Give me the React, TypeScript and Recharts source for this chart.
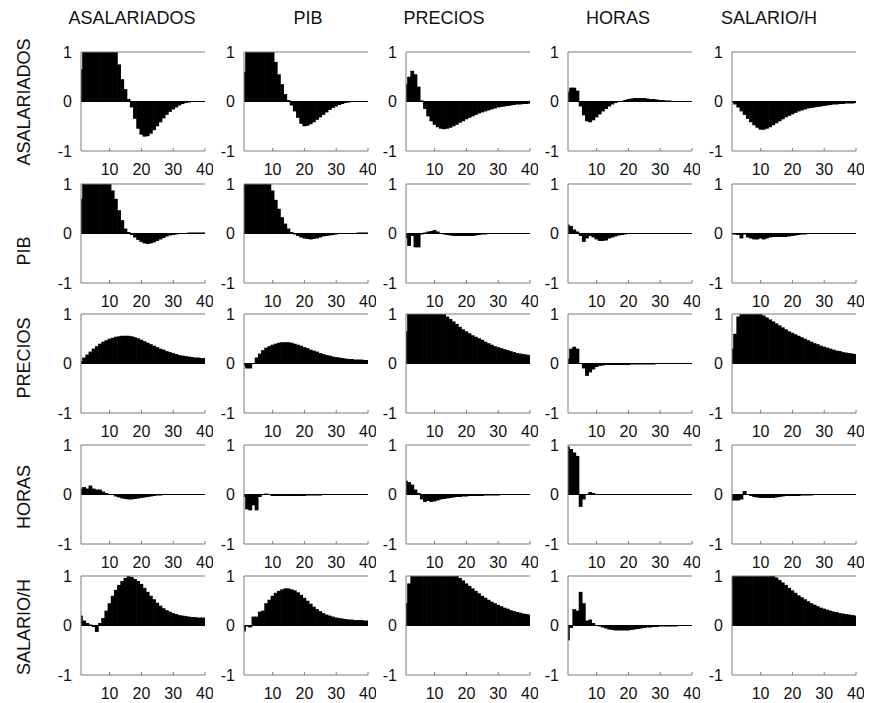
import React from 'react';
import { BarChart, Bar, XAxis, YAxis, ReferenceLine } from 'recharts';

const VARIABLES = ['ASALARIADOS', 'PIB', 'PRECIOS', 'HORAS', 'SALARIO/H'];
const HORIZON = Array.from({ length: 40 }, (_, i) => i + 1);
const X_TICKS = [10, 20, 30, 40];
const Y_TICKS = [-1, 0, 1];

// row = variable on the left, column = variable on top
const asal_asal = [0.65, 1, 1, 1, 1, 1, 1, 1, 1, 1, 1, 1, 0.75, 0.45, 0.25, 0.05, -0.12, -0.35, -0.55, -0.67, -0.71, -0.7, -0.65, -0.58, -0.5, -0.42, -0.34, -0.27, -0.21, -0.16, -0.12, -0.08, -0.05, -0.03, -0.02, -0.01, -0.01, -0.01, -0.01, -0.01];
const asal_pib = [0.6, 1, 1, 1, 1, 1, 1, 1, 1, 1, 0.8, 0.55, 0.35, 0.15, 0.03, -0.08, -0.2, -0.33, -0.45, -0.5, -0.49, -0.46, -0.42, -0.37, -0.32, -0.27, -0.22, -0.17, -0.13, -0.1, -0.07, -0.05, -0.03, -0.02, -0.01, -0.01, -0.01, -0.01, -0.01, -0.01];
const asal_prec = [0.35, 0.5, 0.62, 0.55, 0.3, 0.02, -0.15, -0.3, -0.4, -0.47, -0.52, -0.55, -0.56, -0.55, -0.53, -0.5, -0.47, -0.43, -0.4, -0.36, -0.33, -0.3, -0.27, -0.24, -0.22, -0.2, -0.18, -0.16, -0.14, -0.12, -0.11, -0.1, -0.09, -0.08, -0.07, -0.06, -0.06, -0.05, -0.05, -0.04];
const asal_hor = [0.2, 0.28, 0.28, 0.22, -0.1, -0.28, -0.4, -0.42, -0.38, -0.32, -0.26, -0.2, -0.15, -0.1, -0.06, -0.03, -0.01, 0.01, 0.03, 0.05, 0.06, 0.07, 0.07, 0.07, 0.07, 0.06, 0.05, 0.05, 0.04, 0.03, 0.03, 0.02, 0.02, 0.01, 0.01, 0.01, 0, 0, 0, 0];
const asal_sal = [-0.02, -0.06, -0.12, -0.2, -0.27, -0.35, -0.42, -0.48, -0.53, -0.57, -0.57, -0.55, -0.52, -0.48, -0.44, -0.4, -0.36, -0.32, -0.29, -0.26, -0.23, -0.2, -0.18, -0.16, -0.14, -0.13, -0.12, -0.11, -0.1, -0.09, -0.08, -0.07, -0.06, -0.06, -0.05, -0.05, -0.04, -0.04, -0.04, -0.03];

const pib_asal = [0.7, 1, 1, 1, 1, 1, 1, 1, 1, 1, 0.87, 0.7, 0.47, 0.27, 0.1, 0.03, -0.03, -0.08, -0.13, -0.17, -0.2, -0.21, -0.2, -0.18, -0.15, -0.12, -0.09, -0.06, -0.04, -0.03, -0.02, -0.01, 0, 0.01, 0.02, 0.02, 0.02, 0.02, 0.02, 0.02];
const pib_pib = [1, 1, 1, 1, 1, 1, 1, 1, 1, 0.87, 0.68, 0.5, 0.33, 0.2, 0.1, 0.03, -0.02, -0.05, -0.08, -0.1, -0.11, -0.12, -0.11, -0.1, -0.08, -0.06, -0.05, -0.04, -0.03, -0.02, -0.01, -0.01, 0, 0, 0, 0, 0.02, 0.02, 0.02, 0.02];
const pib_prec = [-0.1, -0.25, -0.05, -0.28, -0.28, -0.02, 0.02, 0.04, 0.05, 0.07, 0.04, 0.01, -0.02, -0.03, -0.04, -0.05, -0.05, -0.05, -0.05, -0.05, -0.05, -0.05, -0.04, -0.03, -0.02, -0.02, -0.01, -0.01, -0.01, -0.01, -0.01, -0.01, -0.01, -0.01, -0.01, -0.01, -0.01, -0.01, -0.01, -0.01];
const pib_hor = [0.18, 0.15, 0.08, 0.04, -0.05, -0.17, -0.1, -0.05, -0.08, -0.12, -0.15, -0.15, -0.14, -0.1, -0.08, -0.06, -0.04, -0.03, -0.02, -0.01, 0.01, 0.01, 0.01, 0.01, 0.01, 0.01, 0.01, 0.01, 0.01, 0.01, 0.01, 0.01, 0, 0, 0, 0, 0, 0, 0, 0];
const pib_sal = [-0.02, -0.02, -0.03, -0.1, -0.02, -0.08, -0.1, -0.12, -0.12, -0.1, -0.12, -0.1, -0.08, -0.07, -0.07, -0.07, -0.07, -0.07, -0.06, -0.05, -0.04, -0.03, -0.02, -0.02, -0.01, -0.01, -0.01, -0.01, -0.01, -0.01, -0.01, -0.01, -0.01, -0.01, -0.01, -0.01, -0.01, -0.01, -0.01, -0.01];

const prec_asal = [0.05, 0.12, 0.18, 0.24, 0.3, 0.35, 0.4, 0.44, 0.47, 0.5, 0.52, 0.54, 0.55, 0.56, 0.56, 0.56, 0.55, 0.53, 0.51, 0.48, 0.45, 0.42, 0.39, 0.36, 0.33, 0.3, 0.28, 0.25, 0.23, 0.21, 0.19, 0.17, 0.16, 0.15, 0.14, 0.13, 0.12, 0.12, 0.11, 0.11];
const prec_pib = [-0.05, -0.1, -0.1, 0, 0.12, 0.2, 0.27, 0.32, 0.35, 0.38, 0.4, 0.42, 0.43, 0.43, 0.43, 0.42, 0.4, 0.38, 0.36, 0.33, 0.31, 0.28, 0.26, 0.24, 0.21, 0.19, 0.17, 0.16, 0.14, 0.13, 0.12, 0.11, 0.1, 0.09, 0.09, 0.08, 0.08, 0.08, 0.07, 0.07];
const prec_prec = [0.65, 1, 1, 1, 1, 1, 1, 1, 1, 1, 1, 1, 1, 0.95, 0.9, 0.85, 0.8, 0.74, 0.69, 0.65, 0.61, 0.57, 0.54, 0.51, 0.48, 0.44, 0.41, 0.38, 0.35, 0.33, 0.31, 0.29, 0.27, 0.25, 0.23, 0.21, 0.2, 0.19, 0.18, 0.17];
const prec_hor = [0.1, 0.3, 0.34, 0.3, 0, -0.1, -0.25, -0.18, -0.12, -0.07, -0.05, -0.04, -0.03, -0.03, -0.03, -0.03, -0.03, -0.03, -0.03, -0.03, -0.02, -0.02, -0.02, -0.02, -0.02, -0.02, -0.02, -0.02, -0.01, -0.01, -0.01, -0.01, -0.01, 0, 0, 0, 0, 0, 0, 0];
const prec_sal = [0.3, 0.6, 0.95, 1, 1, 1, 1, 1, 1, 1, 0.97, 0.93, 0.89, 0.85, 0.81, 0.77, 0.73, 0.69, 0.65, 0.62, 0.59, 0.56, 0.53, 0.5, 0.47, 0.44, 0.41, 0.39, 0.36, 0.34, 0.32, 0.3, 0.28, 0.26, 0.25, 0.23, 0.22, 0.21, 0.2, 0.19];

const hor_asal = [0.12, 0.15, 0.12, 0.18, 0.12, 0.1, 0.1, 0.06, 0.03, 0.01, -0.01, -0.04, -0.06, -0.08, -0.09, -0.1, -0.1, -0.09, -0.08, -0.07, -0.06, -0.05, -0.04, -0.03, -0.02, -0.02, -0.01, -0.01, -0.01, -0.01, -0.01, -0.01, -0.01, -0.01, -0.01, -0.01, -0.01, -0.01, -0.01, -0.01];
const hor_pib = [-0.05, -0.3, -0.32, -0.22, -0.32, -0.05, 0, 0.02, -0.01, -0.03, -0.03, -0.03, -0.03, -0.03, -0.03, -0.03, -0.03, -0.03, -0.03, -0.03, -0.02, -0.02, -0.02, -0.02, -0.02, -0.01, -0.01, -0.01, -0.01, -0.01, 0, 0, 0, 0, 0, 0, 0, 0, 0, 0];
const hor_prec = [0.28, 0.25, 0.2, 0.1, 0.03, -0.1, -0.15, -0.13, -0.15, -0.14, -0.12, -0.1, -0.09, -0.08, -0.07, -0.06, -0.05, -0.05, -0.04, -0.04, -0.03, -0.03, -0.03, -0.03, -0.03, -0.02, -0.02, -0.02, -0.02, -0.02, -0.01, -0.01, -0.01, -0.01, -0.01, 0, 0, 0, 0, 0];
const hor_hor = [0.97, 0.92, 0.85, 0.78, -0.25, -0.1, 0, 0.05, 0.03, 0.01, 0.01, 0.01, 0.01, 0.01, 0.01, 0.01, 0.01, 0.01, 0.01, 0.01, 0.01, 0.01, 0.01, 0.01, 0.01, 0.01, 0.01, 0.01, 0.01, 0.01, 0.01, 0.01, 0.01, 0.01, 0.01, 0.01, 0.01, 0.01, 0.01, 0.01];
const hor_sal = [-0.12, -0.12, -0.12, -0.1, 0.07, 0, -0.03, -0.05, -0.06, -0.07, -0.07, -0.07, -0.07, -0.07, -0.06, -0.05, -0.04, -0.03, -0.03, -0.03, -0.03, -0.03, -0.02, -0.02, -0.02, -0.02, -0.01, -0.01, -0.01, -0.01, -0.01, -0.01, -0.01, 0, 0, 0, 0, 0, 0, 0];

const sal_asal = [0.2, 0.1, 0.05, 0.02, -0.03, -0.13, 0.05, 0.15, 0.3, 0.45, 0.6, 0.72, 0.82, 0.9, 0.96, 1, 0.98, 0.94, 0.9, 0.84, 0.76, 0.68, 0.6, 0.53, 0.46, 0.4, 0.35, 0.31, 0.28, 0.25, 0.23, 0.21, 0.2, 0.19, 0.18, 0.17, 0.17, 0.16, 0.16, 0.16];
const sal_pib = [-0.12, -0.02, -0.04, 0.18, 0.18, 0.28, 0.3, 0.45, 0.52, 0.6, 0.66, 0.7, 0.73, 0.75, 0.75, 0.73, 0.71, 0.67, 0.62, 0.56, 0.5, 0.44, 0.38, 0.33, 0.29, 0.25, 0.22, 0.2, 0.18, 0.16, 0.15, 0.14, 0.13, 0.12, 0.12, 0.11, 0.11, 0.11, 0.1, 0.1];
const sal_prec = [0.45, 0.85, 1, 1, 1, 1, 1, 1, 1, 1, 1, 1, 1, 1, 1, 1, 1, 0.96, 0.91, 0.85, 0.8, 0.75, 0.7, 0.65, 0.6, 0.56, 0.52, 0.48, 0.45, 0.42, 0.39, 0.36, 0.34, 0.31, 0.29, 0.27, 0.26, 0.24, 0.23, 0.22];
const sal_hor = [-0.3, -0.05, 0.33, 0.3, 0.68, 0.45, 0.1, 0.12, 0.05, 0, -0.02, -0.04, -0.06, -0.08, -0.09, -0.1, -0.1, -0.1, -0.1, -0.1, -0.09, -0.08, -0.07, -0.06, -0.05, -0.04, -0.04, -0.03, -0.03, -0.02, -0.02, -0.02, -0.02, -0.02, -0.02, -0.01, -0.01, -0.01, 0, 0];
const sal_sal = [1, 1, 1, 1, 1, 1, 1, 1, 1, 1, 1, 1, 1, 1, 0.97, 0.92, 0.87, 0.82, 0.76, 0.71, 0.66, 0.61, 0.57, 0.53, 0.49, 0.45, 0.42, 0.39, 0.36, 0.34, 0.32, 0.3, 0.28, 0.27, 0.25, 0.24, 0.23, 0.22, 0.21, 0.2];

const GRID = [
  [asal_asal, asal_pib, asal_prec, asal_hor, asal_sal],
  [pib_asal, pib_pib, pib_prec, pib_hor, pib_sal],
  [prec_asal, prec_pib, prec_prec, prec_hor, prec_sal],
  [hor_asal, hor_pib, hor_prec, hor_hor, hor_sal],
  [sal_asal, sal_pib, sal_prec, sal_hor, sal_sal],
];

const FONT = '"Liberation Sans", Arial, sans-serif';
const AXIS_GREY = '#7a7a7a';

const COL_LEFT = [81, 244, 406, 568, 732];
const ROW_TOP = [52, 184, 314, 445, 576];
const PLOT_W = 124;
const PLOT_H = 99;
const PAD_L = 35;
const PAD_T = 8;
const PAD_R = 8;
const PAD_B = 30;

const TITLE_X = [132, 308, 444, 618, 769];
const ROW_LABEL_Y = [102, 251, 358, 497, 627];

// bars drawn a touch wider than Recharts' integer width so neighbours close up
const SolidBar = (p: any) => {
  const top = Math.min(p.y, p.y + p.height);
  const h = Math.abs(p.height);
  return <rect x={p.x - 0.4} y={top} width={p.width + 0.8} height={h} fill="#000" />;
};

function Panel({ values, left, top }: { values: number[]; left: number; top: number }) {
  const data = HORIZON.map((h, i) => ({ h, v: values[i] }));
  return (
    <div style={{ position: 'absolute', left: left - PAD_L, top: top - PAD_T }}>
      <BarChart
        width={PAD_L + PLOT_W + PAD_R}
        height={PAD_T + PLOT_H + PAD_B}
        data={data}
        margin={{ top: PAD_T, right: PAD_R, left: 5, bottom: 5 }}
        barCategoryGap={0}
        barGap={0}
      >
        <XAxis
          dataKey="h"
          type="number"
          domain={[1, 40]}
          allowDataOverflow
          ticks={X_TICKS}
          interval={0}
          height={25}
          stroke={AXIS_GREY}
          tickSize={-3}
          tickMargin={16}
          tick={{ fill: '#111', fontSize: 16, fontFamily: FONT }}
        />
        <YAxis
          type="number"
          domain={[-1, 1]}
          allowDataOverflow
          ticks={Y_TICKS}
          interval={0}
          width={30}
          stroke={AXIS_GREY}
          tickLine={false}
          tickSize={0}
          tickMargin={9}
          tick={{ fill: '#111', fontSize: 16, fontFamily: FONT }}
        />
        <ReferenceLine y={1} stroke={AXIS_GREY} strokeWidth={1} />
        <Bar dataKey="v" fill="#000" shape={SolidBar} isAnimationActive={false} />
        <ReferenceLine y={0} stroke="#000" strokeWidth={1} />
      </BarChart>
    </div>
  );
}

export default function App() {
  return (
    <div style={{ position: 'absolute', left: 0, top: 0, width: 869, height: 703, background: '#fff', fontFamily: FONT }}>
      <svg width={869} height={703} style={{ position: 'absolute', left: 0, top: 0 }}>
        {VARIABLES.map((name, c) => (
          <text key={'t' + c} x={TITLE_X[c]} y={24} textAnchor="middle" fontSize={18} fill="#111" fontFamily={FONT}>
            {name}
          </text>
        ))}
        {VARIABLES.map((name, r) => (
          <text
            key={'r' + r}
            x={0}
            y={0}
            transform={`translate(30, ${ROW_LABEL_Y[r]}) rotate(-90)`}
            textAnchor="middle"
            fontSize={18}
            fill="#111"
            fontFamily={FONT}
          >
            {name}
          </text>
        ))}
      </svg>
      {GRID.map((row, r) =>
        row.map((values, c) => (
          <Panel key={r + '-' + c} values={values} left={COL_LEFT[c]} top={ROW_TOP[r]} />
        ))
      )}
    </div>
  );
}
